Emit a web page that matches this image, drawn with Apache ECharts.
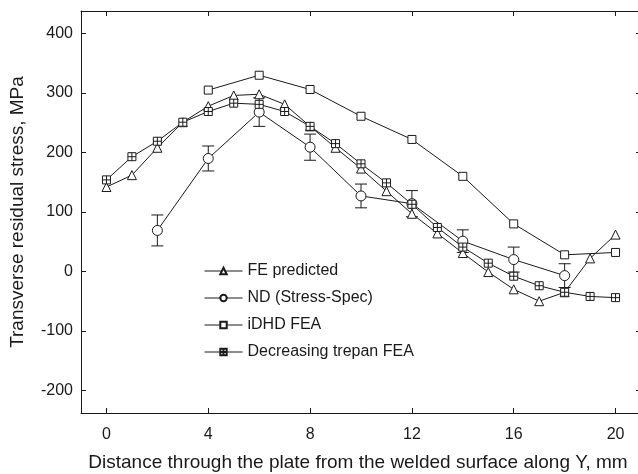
<!DOCTYPE html>
<html>
<head>
<meta charset="utf-8">
<script src="https://cdn.jsdelivr.net/npm/echarts@6/dist/echarts.min.js"></script>
<style>
  html, body { margin: 0; padding: 0; background: #fff; overflow: hidden; }
  #chart { width: 644px; height: 474px; }
</style>
</head>
<body>
<div id="chart"></div>
<script>
// Distance along Y (mm)
const xFull = [0, 1, 2, 3, 4, 5, 6, 7, 8, 9, 10, 11, 12, 13, 14, 15, 16, 17, 18, 19, 20];
const feValues = [142, 162, 208, 251, 278, 296, 298, 281, 244, 208, 173, 135, 97, 64, 31, -1, -30, -50, -35, 22, 62];

const ndX = [2, 4, 6, 8, 10, 12, 14, 16, 18];
const ndValues = [69, 190, 268, 209, 127, 114, 51, 20, -7];
const ndError = [26, 21, 24, 22, 20, 22, 19, 21, 20];

const idhdX = [4, 6, 8, 10, 12, 14, 16, 18, 20];
const idhdValues = [305, 330, 306, 261, 222, 160, 80, 28, 32];

const trepanValues = [154, 193, 219, 251, 269, 283, 281, 269, 244, 215, 181, 149, 113, 74, 41, 14, -8, -24, -35, -42, -44];

const xTicks = [0, 4, 8, 12, 16, 20];
const yTicks = [-200, -100, 0, 100, 200, 300, 400];

const seriesNames = ['FE predicted', 'ND (Stress-Spec)', 'iDHD FEA', 'Decreasing trepan FEA'];

const pair = (xs, ys) => xs.map((x, i) => [x, ys[i]]);
const ink = '#1a1a1a';
const font = '"Liberation Sans", Arial, sans-serif';

// square with an inner cross
const boxPlus = 'path://M0,0 L10,0 L10,10 L0,10 Z M5,0 L5,10 M0,5 L10,5';

const markerStyle = { color: '#fff', borderColor: ink, borderWidth: 1 };
const lineStyle = { color: ink, width: 1 };

const chart = echarts.init(document.getElementById('chart'), null, { renderer: 'canvas' });

const frameLine = { onZero: false, lineStyle: { color: ink, width: 1 } };
const tickStyle = (vals) => ({ inside: true, length: 5, lineStyle: { color: ink }, customValues: vals });

chart.setOption({
  animation: false,
  backgroundColor: '#fff',
  textStyle: { fontFamily: font },
  grid: { left: 81, top: 11, width: 560, height: 402, containLabel: false },
  legend: {
    data: seriesNames,
    orient: 'vertical',
    left: 199,
    top: 258,
    itemWidth: 38,
    itemHeight: 8,
    itemGap: 11,
    lineStyle: { width: 1 },
    textStyle: { fontFamily: font, fontSize: 16, color: ink, lineHeight: 16 },
    inactiveColor: ink
  },
  xAxis: [
    {
      type: 'value', min: -1, max: 21, position: 'bottom',
      axisLine: frameLine,
      splitLine: { show: false },
      axisTick: tickStyle(xTicks),
      axisLabel: { customValues: xTicks, color: ink, fontSize: 16, fontFamily: font, margin: 14 }
    },
    {
      type: 'value', min: -1, max: 21, position: 'top',
      axisLine: frameLine,
      splitLine: { show: false },
      axisTick: tickStyle(xTicks),
      axisLabel: { show: false }
    }
  ],
  yAxis: [
    {
      type: 'value', min: -238, max: 438, position: 'left',
      axisLine: frameLine,
      splitLine: { show: false },
      axisTick: tickStyle(yTicks),
      axisLabel: { customValues: yTicks, color: ink, fontSize: 16, fontFamily: font, margin: 8 }
    },
    {
      type: 'value', min: -238, max: 438, position: 'right',
      axisLine: frameLine,
      splitLine: { show: false },
      axisTick: tickStyle(yTicks),
      axisLabel: { show: false }
    }
  ],
  graphic: [
    {
      type: 'text', x: 358, y: 453,
      style: { text: 'Distance through the plate from the welded surface along Y, mm', font: '19px ' + font, fill: ink, align: 'center', verticalAlign: 'top' }
    },
    {
      type: 'text', x: 8, y: 212, rotation: Math.PI / 2,
      style: { text: 'Transverse residual stress, MPa', font: '19px ' + font, fill: ink, align: 'center', verticalAlign: 'top' }
    }
  ],
  series: [
    {
      name: 'ND error',
      type: 'custom',
      xAxisIndex: 0, yAxisIndex: 0,
      data: ndX.map((x, i) => [x, ndValues[i] - ndError[i], ndValues[i] + ndError[i]]),
      z: 2,
      renderItem: function (params, api) {
        const lo = api.coord([api.value(0), api.value(1)]);
        const hi = api.coord([api.value(0), api.value(2)]);
        const half = 6;
        const st = { stroke: ink, lineWidth: 1 };
        return {
          type: 'group',
          children: [
            { type: 'line', shape: { x1: lo[0], y1: lo[1], x2: hi[0], y2: hi[1] }, style: st },
            { type: 'line', shape: { x1: lo[0] - half, y1: lo[1], x2: lo[0] + half, y2: lo[1] }, style: st },
            { type: 'line', shape: { x1: hi[0] - half, y1: hi[1], x2: hi[0] + half, y2: hi[1] }, style: st }
          ]
        };
      }
    },
    {
      name: seriesNames[0], type: 'line', data: pair(xFull, feValues),
      symbol: 'triangle', symbolSize: 9, showAllSymbol: true,
      itemStyle: markerStyle, lineStyle: lineStyle, z: 3
    },
    {
      name: seriesNames[1], type: 'line', data: pair(ndX, ndValues),
      symbol: 'circle', symbolSize: 10, showAllSymbol: true,
      itemStyle: markerStyle, lineStyle: lineStyle, z: 3
    },
    {
      name: seriesNames[2], type: 'line', data: pair(idhdX, idhdValues),
      symbol: 'rect', symbolSize: 8, showAllSymbol: true,
      itemStyle: markerStyle, lineStyle: lineStyle, z: 3
    },
    {
      name: seriesNames[3], type: 'line', data: pair(xFull, trepanValues),
      symbol: boxPlus, symbolSize: 8, showAllSymbol: true,
      itemStyle: markerStyle, lineStyle: lineStyle, z: 3
    }
  ]
});
</script>
</body>
</html>
